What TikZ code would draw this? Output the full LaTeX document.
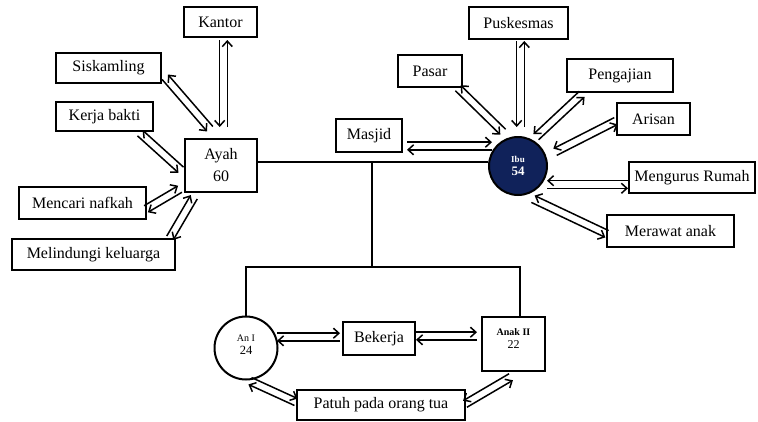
\documentclass[tikz,border=0pt]{standalone}
\usepackage{fontspec}
\setmainfont{Liberation Serif}
\usetikzlibrary{calc,arrows.meta}
\definecolor{navy}{RGB}{16,34,90}
\tikzset{
  box/.style={draw, line width=2pt, inner sep=0pt, align=center,
    font=\fontsize{16}{19}\selectfont},
  conn/.style={line width=1.5pt, -{Straight Barb[length=5.5pt,width=10pt]}},
  family/.style={line width=2.8pt},
}
% forward line (to #2) on the left of the direction #1 -> #2
\newcommand\pairL[2]{%
  \draw[conn] ($(#1)!3.8pt!90:(#2)$) -- ($(#2)!3.8pt!-90:(#1)$);
  \draw[conn] ($(#2)!3.8pt!90:(#1)$) -- ($(#1)!3.8pt!-90:(#2)$);}
% forward line (to #2) on the right of the direction #1 -> #2
\newcommand\pairR[2]{%
  \draw[conn] ($(#1)!3.8pt!-90:(#2)$) -- ($(#2)!3.8pt!90:(#1)$);
  \draw[conn] ($(#2)!3.8pt!-90:(#1)$) -- ($(#1)!3.8pt!90:(#2)$);}
\begin{document}
\begin{tikzpicture}[x=1pt,y=-1pt]
\useasboundingbox (0,0) rectangle (758,421);

% ---- Ayah side
\node[box,minimum width=73pt,minimum height=30pt] (kantor) at (220.5,22) {Kantor};
\node[box,minimum width=105pt,minimum height=30pt] (siskamling) at (108.5,68) {Siskamling};
\node[box,minimum width=97pt,minimum height=29pt] (kerja) at (104.5,116.5) {Kerja bakti};
\node[box,minimum width=72pt,minimum height=53pt,font=\fontsize{16}{22}\selectfont] (ayah) at (221,165.5) {Ayah\\60};
\node[box,minimum width=127pt,minimum height=32pt] (nafkah) at (82.5,203) {Mencari nafkah};
\node[box,minimum width=163pt,minimum height=31pt] (lindungi) at (93.5,254.5) {Melindungi keluarga};

% ---- Ibu side
\node[box,minimum width=99pt,minimum height=32pt] (puskesmas) at (518.5,23) {Puskesmas};
\node[box,minimum width=64pt,minimum height=32pt] (pasar) at (430,71) {Pasar};
\node[box,minimum width=106pt,minimum height=33pt] (pengajian) at (620,75.5) {Pengajian};
\node[box,minimum width=73pt,minimum height=32pt] (arisan) at (653.5,119) {Arisan};
\node[box,minimum width=66pt,minimum height=33pt] (masjid) at (369,135.5) {Masjid};
\node[circle,draw=black,fill=navy,line width=2pt,minimum size=58pt,inner sep=0pt,
      text=white,align=center] (ibu) at (518,166)
      {{\fontsize{9}{10}\selectfont\bfseries Ibu}\\[1pt]{\fontsize{13}{13}\selectfont\bfseries 54}};
\node[box,minimum width=126pt,minimum height=31pt] (rumah) at (692,177.5) {Mengurus Rumah};
\node[box,minimum width=127pt,minimum height=32pt] (merawat) at (670.5,231) {Merawat anak};

% ---- children
\node[circle,draw,line width=2pt,minimum size=63pt,inner sep=0pt] (an1) at (246,348) {};
\node[align=center,inner sep=0pt] (an1txt) at (246,345)
      {{\fontsize{10}{11}\selectfont An I}\\[1pt]{\fontsize{12.5}{13}\selectfont 24}};
\node[box,minimum width=72pt,minimum height=33pt] (bekerja) at (379,338.5) {Bekerja};
\node[box,minimum width=63pt,minimum height=54pt] (anak2) at (513.5,344) {};
\node[align=center,inner sep=0pt] (anak2txt) at (513.5,338.5)
      {{\fontsize{10}{11}\selectfont\bfseries Anak II}\\[1pt]{\fontsize{12}{13}\selectfont 22}};
\node[box,minimum width=168pt,minimum height=30pt] (patuh) at (381,405) {Patuh pada orang tua};

% ---- family lines
\coordinate (mid) at (372,162);
\coordinate (bar) at (372,267);
\coordinate (barL) at (246,267);
\coordinate (barR) at (520,267);
\draw[family] (ayah.east |- mid) -- (ibu.west |- mid);
\draw[family] (mid) -- (bar);
\draw[family,line cap=rect] (barL) -- (barR);
\draw[family] (barL) -- (an1.north);
\draw[family] (barR) -- (barR |- anak2.north);

% ---- connector end points
\coordinate (kA) at (223.5,40);  \coordinate (kB) at (223.5,127);
\coordinate (sA) at (165,77);    \coordinate (sB) at (210,129);
\coordinate (kbA) at (140,133);  \coordinate (kbB) at (181,170);
\coordinate (mnA) at (146,209);  \coordinate (mnB) at (180,189);
\coordinate (mlA) at (170,238);  \coordinate (mlB) at (194,197);
\coordinate (mjA) at (407,146);  \coordinate (mjB) at (492,146);
\coordinate (paA) at (458,88);   \coordinate (paB) at (503,132);
\coordinate (puA) at (520.5,41); \coordinate (puB) at (520.5,127);
\coordinate (pgA) at (582,94);   \coordinate (pgB) at (536,137);
\coordinate (arA) at (616,121);  \coordinate (arB) at (555,152);
\coordinate (muA) at (628,184.5);\coordinate (muB) at (547,184.5);
\coordinate (mwA) at (607,234);  \coordinate (mwB) at (533,199);
\coordinate (abA) at (277,337);  \coordinate (abB) at (340,337);
\coordinate (baA) at (416,336);  \coordinate (baB) at (477,336);
\coordinate (apA) at (250,381);  \coordinate (apB) at (296,402);
\coordinate (npA) at (511,377);  \coordinate (npB) at (465,404);

\pairR{kA}{kB}
\pairR{sA}{sB}
\pairR{kbA}{kbB}
\pairL{mnA}{mnB}
\pairL{mlA}{mlB}
\pairL{mjA}{mjB}
\pairR{paA}{paB}
\pairR{puA}{puB}
\pairR{pgA}{pgB}
\pairR{arA}{arB}
\pairR{muA}{muB}
\pairR{mwA}{mwB}
\pairL{abA}{abB}
\pairL{baA}{baB}
\pairL{apA}{apB}
\pairR{npA}{npB}
\end{tikzpicture}
\end{document}
